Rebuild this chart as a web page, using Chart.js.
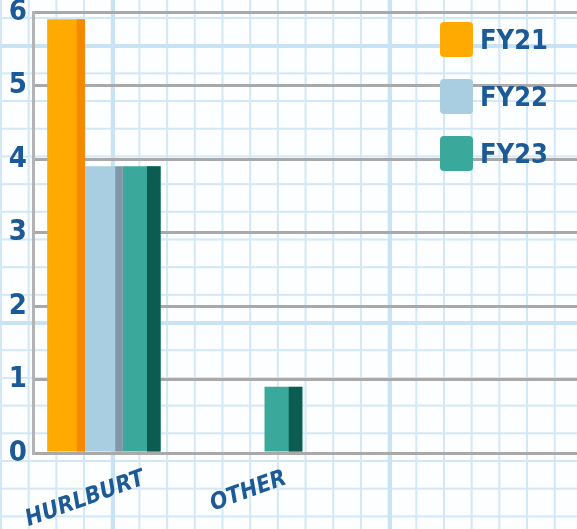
<!DOCTYPE html>
<html>
<head>
<meta charset="utf-8">
<script src="https://cdn.jsdelivr.net/npm/chart.js@4.4.1/dist/chart.umd.min.js"></script>
<style>
    html, body {
        margin: 0;
        padding: 0;
        width: 577px;
        height: 529px;
        overflow: hidden;
    }
    body {
        background-color: #fdfeff;
        background-image:
            linear-gradient(to right, #c9e3f4 4px, transparent 4px),
            linear-gradient(to bottom, #c9e3f4 4px, transparent 4px),
            linear-gradient(to right, #d2e8f6 2px, transparent 2px),
            linear-gradient(to bottom, #d2e8f6 2px, transparent 2px);
        background-size: 277px 100%, 100% 277px, 27.7px 100%, 100% 27.7px;
        background-position: 111px 0, 0 44px, 0 0, 0 17px;
        position: relative;
    }
    .wrap {
        position: absolute;
        left: 0;
        top: 0;
        width: 577px;
        height: 529px;
        overflow: hidden;
    }
    .legend {
        position: absolute;
        left: 440px;
        top: 22px;
        font-family: "DejaVu Sans Condensed", sans-serif;
        font-weight: bold;
        font-size: 27px;
        color: #1b5a96;
    }
    .legend .item {
        display: flex;
        align-items: center;
        height: 35px;
        margin-bottom: 22px;
    }
    .legend .box {
        width: 33px;
        height: 35px;
        border-radius: 4px;
        margin-right: 7px;
    }
</style>
</head>
<body>
<!-- plot runs off the right edge in the original, so the canvas is a bit wider than the window -->
<div class="wrap"><canvas id="chart" width="600" height="529"></canvas></div>
<div class="legend"></div>
<script>
    // values
    const categories = ["HURLBURT", "OTHER", "", ""]
    const seriesNames = ["FY21", "FY22", "FY23"]
    const fy21 = [5.9, null, null, null]
    const fy22 = [3.9, null, null, null]
    const fy23 = [3.9, 0.9, null, null]
    const yTicks = [0, 1, 2, 3, 4, 5, 6]

    const fronts = ["#ffaa00", "#a9cde1", "#3aa99c"]
    const sides = ["#f58a00", "#7f98a8", "#0c5c51"]
    const sideShare = [0.22, 0.2, 0.36]

    const blue = "#1b5a96"
    const narrow = "'DejaVu Sans Condensed', sans-serif"

    // darker right face on each bar, to give the flat bars some depth
    const sideFace = {
        id: "sideFace",
        afterDatasetsDraw(chart) {
            const ctx = chart.ctx
            chart.data.datasets.forEach((ds, i) => {
                chart.getDatasetMeta(i).data.forEach(el => {
                    const p = el.getProps(["x", "y", "base", "width"], true)
                    if (!p.width || p.base - p.y <= 0) return
                    const w = p.width * sideShare[i]
                    ctx.save()
                    ctx.fillStyle = sides[i]
                    ctx.fillRect(p.x + p.width / 2 - w, p.y, w, p.base - p.y)
                    ctx.restore()
                })
            })
        }
    }

    new Chart("chart", {
        type: "bar",
        data: {
            labels: categories,
            datasets: [fy21, fy22, fy23].map((d, i) => ({
                label: seriesNames[i],
                data: d,
                backgroundColor: fronts[i],
                borderWidth: 0,
                categoryPercentage: 0.8,
                barPercentage: 1
            }))
        },
        options: {
            responsive: false,
            animation: false,
            layout: { padding: { top: 12, right: 0, left: 0, bottom: 0 } },
            plugins: {
                legend: { display: false },
                tooltip: { enabled: false }
            },
            scales: {
                x: {
                    grid: { display: false },
                    border: { display: false },
                    ticks: {
                        color: blue,
                        font: { family: narrow, size: 23, weight: "bold", style: "italic" },
                        minRotation: 20,
                        maxRotation: 20,
                        labelOffset: 40,
                        padding: 4
                    },
                    afterFit: axis => {
                        axis.height = 76
                        axis.paddingLeft = 0
                        axis.paddingRight = 0
                    }
                },
                y: {
                    min: 0,
                    max: 6,
                    afterBuildTicks: axis => { axis.ticks = yTicks.map(v => ({ value: v })) },
                    grid: { color: "#a9a9a9", lineWidth: 3, drawTicks: false },
                    border: { display: true, color: "#b3b3b3", width: 3 },
                    ticks: {
                        color: blue,
                        font: { family: narrow, size: 29, weight: "bold" },
                        padding: 6
                    },
                    afterFit: axis => {
                        axis.width = 33
                        axis.paddingTop = 0
                        axis.paddingBottom = 0
                    }
                }
            }
        },
        plugins: [sideFace]
    })

    seriesNames.forEach((name, i) => {
        document.querySelector(".legend").insertAdjacentHTML("beforeend",
            `<div class="item"><div class="box" style="background:${fronts[i]}"></div><span>${name}</span></div>`)
    })
</script>
</body>
</html>
